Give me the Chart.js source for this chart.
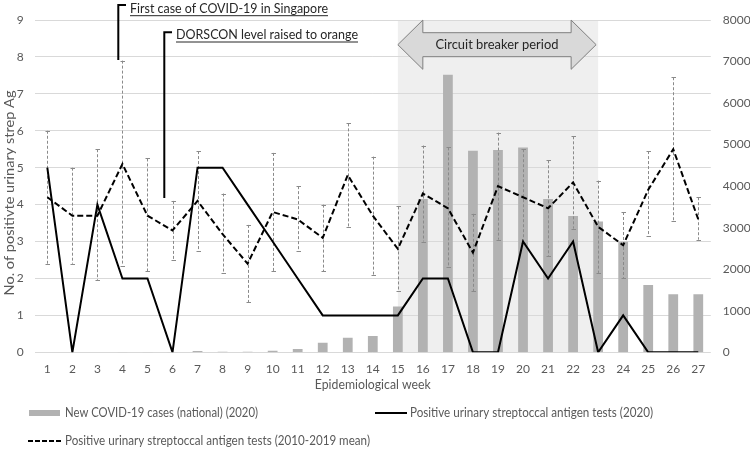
<!DOCTYPE html>
<html><head><meta charset="utf-8">
<script src="https://cdn.jsdelivr.net/npm/chart.js@4.4.1/dist/chart.umd.min.js"></script>
<style>html,body{margin:0;padding:0;background:#fff;}canvas{display:block;}</style>
</head><body>
<canvas id="c" width="750" height="455"></canvas>
<script>
// ---- data ----
const weeks = ['1','2','3','4','5','6','7','8','9','10','11','12','13','14','15','16','17','18','19','20','21','22','23','24','25','26','27'];
const covidCases = [0,0,0,5,10,10,30,15,15,40,80,230,350,390,1100,3690,6680,4850,4870,4930,3690,3280,3150,2660,1620,1400,1400];
const positive2020 = [5,0,4,2,2,0,5,5,4,3,2,1,1,1,1,2,2,0,0,3,2,3,0,1,0,0,0];
const positiveMean = [4.2,3.7,3.7,5.1,3.7,3.3,4.1,3.2,2.4,3.8,3.6,3.1,4.8,3.7,2.8,4.3,3.9,2.7,4.5,4.2,3.9,4.6,3.4,2.9,4.4,5.5,3.6];
const meanUpper = [6.0,5.0,5.5,7.9,5.25,4.1,5.45,4.3,3.45,5.4,4.5,4.0,6.2,5.3,3.95,5.6,5.55,3.75,5.95,5.5,5.2,5.85,4.65,3.8,5.45,7.45,4.2];
const meanLower = [2.4,2.4,1.95,2.35,2.2,2.5,2.75,2.15,1.35,2.2,2.75,2.2,3.4,2.1,1.65,3.0,2.3,1.65,3.05,2.95,2.6,3.35,2.15,2.0,3.15,3.55,3.05];
const leftTicks = [0,1,2,3,4,5,6,7,8,9];
const rightTicks = [0,1000,2000,3000,4000,5000,6000,7000,8000];
const circuitBreaker = ['15','23'];
const labels = {
  yTitle: 'No. of positivte urinary strep Ag',
  xTitle: 'Epidemiological week',
  bars: 'New COVID-19 cases (national) (2020)',
  solid: 'Positive urinary streptoccal antigen tests (2020)',
  dashed: 'Positive urinary streptoccal antigen tests (2010-2019 mean)',
  first: 'First case of COVID-19 in Singapore',
  dorscon: 'DORSCON level raised to orange',
  cb: 'Circuit breaker period'
};

const FONT = 'Lato, "Open Sans", sans-serif';
const TXT = '#595959';

function fitText(ctx, text, x, y, size, target, align, color, underline) {
  ctx.save();
  ctx.font = size + 'px ' + FONT;
  const w = ctx.measureText(text).width;
  const sx = target ? target / w : 1;
  const tw = w * sx;
  let x0 = x;
  if (align === 'center') x0 = x - tw / 2; else if (align === 'right') x0 = x - tw;
  ctx.fillStyle = color;
  ctx.textBaseline = 'middle';
  ctx.textAlign = 'left';
  ctx.translate(x0, y);
  ctx.scale(sx, 1);
  ctx.fillText(text, 0, 0);
  ctx.restore();
  if (underline) {
    ctx.save();
    ctx.strokeStyle = color; ctx.lineWidth = 1;
    ctx.beginPath(); ctx.moveTo(x0, y + size * 0.5 + 0.5); ctx.lineTo(x0 + tw, y + size * 0.5 + 0.5); ctx.stroke();
    ctx.restore();
  }
}

const deco = {
  id: 'deco',
  beforeDraw(chart) {
    const {ctx, chartArea: a, scales} = chart;
    ctx.save();
    ctx.fillStyle = '#fff'; ctx.fillRect(0, 0, chart.width, chart.height);
    const x0 = scales.x.getPixelForValue(weeks.indexOf(circuitBreaker[0]));
    const x1 = scales.x.getPixelForValue(weeks.indexOf(circuitBreaker[1]));
    ctx.fillStyle = '#efefef';
    ctx.fillRect(x0, a.top, x1 - x0, a.bottom - a.top);
    ctx.restore();
  },
  beforeDatasetsDraw(chart) {
    const {ctx, chartArea: a, scales} = chart;
    const xl = scales.x.getPixelForValue(weeks.indexOf(circuitBreaker[0]));
    const xr = scales.x.getPixelForValue(weeks.indexOf(circuitBreaker[1])) - 2;
    const cy = a.top + 24.7, hh = 24.6, sh = 12, hw = 25;
    ctx.save();
    ctx.beginPath();
    ctx.moveTo(xl, cy);
    ctx.lineTo(xl + hw, cy - hh);
    ctx.lineTo(xl + hw, cy - sh);
    ctx.lineTo(xr - hw, cy - sh);
    ctx.lineTo(xr - hw, cy - hh);
    ctx.lineTo(xr, cy);
    ctx.lineTo(xr - hw, cy + hh);
    ctx.lineTo(xr - hw, cy + sh);
    ctx.lineTo(xl + hw, cy + sh);
    ctx.lineTo(xl + hw, cy + hh);
    ctx.closePath();
    ctx.fillStyle = '#d9d9d9';
    ctx.fill();
    ctx.strokeStyle = '#7f7f7f'; ctx.lineWidth = 1;
    ctx.stroke();
    ctx.restore();
    fitText(ctx, labels.cb, (xl + xr) / 2, cy, 14, 123, 'center', '#262626');
  },
  afterDatasetDraw(chart, args) {
    if (args.index !== 0) return;
    const {ctx, scales} = chart;
    ctx.save();
    ctx.strokeStyle = '#8a8a8a';
    ctx.lineWidth = 1;
    for (let i = 0; i < weeks.length; i++) {
      const x = Math.round(scales.x.getPixelForValue(i)) + 0.5;
      const yu = scales.y.getPixelForValue(meanUpper[i]);
      const yl = scales.y.getPixelForValue(meanLower[i]);
      ctx.setLineDash([3, 2]);
      ctx.beginPath(); ctx.moveTo(x, yu); ctx.lineTo(x, yl); ctx.stroke();
      ctx.setLineDash([]);
      ctx.beginPath();
      ctx.moveTo(x - 2, Math.round(yu) + 0.5); ctx.lineTo(x + 2.5, Math.round(yu) + 0.5);
      ctx.moveTo(x - 2, Math.round(yl) + 0.5); ctx.lineTo(x + 2.5, Math.round(yl) + 0.5);
      ctx.stroke();
    }
    ctx.restore();
  },
  afterDraw(chart) {
    const {ctx, chartArea: a} = chart;
    // annotation brackets
    ctx.save();
    ctx.strokeStyle = '#000'; ctx.lineWidth = 2; ctx.lineCap = 'butt';
    ctx.beginPath();
    ctx.moveTo(118.3, 60); ctx.lineTo(118.3, 5); ctx.lineTo(126, 5);
    ctx.stroke();
    ctx.beginPath();
    ctx.moveTo(164.3, 198); ctx.lineTo(164.3, 32.3); ctx.lineTo(172, 32.3);
    ctx.stroke();
    ctx.restore();
    fitText(ctx, labels.first, 130, 8.2, 14, 198, 'left', '#262626', true);
    fitText(ctx, labels.dorscon, 176, 34.5, 14, 182, 'left', '#262626', true);
    // axis titles
    ctx.save();
    ctx.translate(9.5, 193);
    ctx.rotate(-Math.PI / 2);
    fitText(ctx, labels.yTitle, 0, 0, 14, 205, 'center', TXT);
    ctx.restore();
    fitText(ctx, labels.xTitle, (a.left + a.right) / 2, 385, 13, 116, 'center', TXT);
    // legend
    const r1 = 413, r2 = 441;
    ctx.save();
    ctx.fillStyle = '#b2b2b2';
    ctx.fillRect(29, r1 - 3, 31, 6);
    ctx.strokeStyle = '#000'; ctx.lineWidth = 2;
    ctx.beginPath(); ctx.moveTo(375, r1); ctx.lineTo(407, r1); ctx.stroke();
    ctx.setLineDash([5, 2]);
    ctx.beginPath(); ctx.moveTo(28, r2); ctx.lineTo(62, r2); ctx.stroke();
    ctx.restore();
    fitText(ctx, labels.bars, 65, r1, 13, 193, 'left', TXT);
    fitText(ctx, labels.solid, 410, r1, 13, 243, 'left', TXT);
    fitText(ctx, labels.dashed, 65, r2, 13, 305, 'left', TXT);
  }
};

new Chart(document.getElementById('c'), {
  type: 'bar',
  data: {
    labels: weeks,
    datasets: [
      { type: 'bar', label: labels.bars, data: covidCases, yAxisID: 'y1', backgroundColor: '#b2b2b2',
        barPercentage: 0.39, categoryPercentage: 1, order: 3 },
      { type: 'line', label: labels.dashed, data: positiveMean, yAxisID: 'y', borderColor: '#000', borderWidth: 2,
        borderDash: [6, 3], pointRadius: 0, tension: 0, fill: false, order: 2 },
      { type: 'line', label: labels.solid, data: positive2020, yAxisID: 'y', borderColor: '#000', borderWidth: 2,
        pointRadius: 0, tension: 0, fill: false, order: 1 }
    ]
  },
  options: {
    responsive: false, animation: false, devicePixelRatio: 1,
    layout: { padding: { top: 20, left: 0, right: 0, bottom: 0 } },
    plugins: { legend: { display: false }, tooltip: { enabled: false } },
    scales: {
      x: { offset: true, grid: { display: false }, border: { display: false },
        ticks: { color: TXT, font: { family: FONT, size: 12 }, padding: 2, maxRotation: 0, autoSkip: false },
        afterFit: s => { s.height = 102.7; } },
      y: { position: 'left', min: 0, max: 9,
        afterBuildTicks: s => { s.ticks = leftTicks.map(v => ({ value: v })); },
        ticks: { color: TXT, font: { family: FONT, size: 12 }, padding: 11, callback: v => String(v) },
        grid: { color: '#d9d9d9', drawTicks: false, lineWidth: 1 }, border: { display: false },
        afterFit: s => { s.width = 34.8; } },
      y1: { position: 'right', min: 0, max: 8000,
        afterBuildTicks: s => { s.ticks = rightTicks.map(v => ({ value: v })); },
        ticks: { color: TXT, font: { family: FONT, size: 12 }, padding: 12, callback: v => String(v) },
        grid: { display: false, drawTicks: false }, border: { display: false },
        afterFit: s => { s.width = 39.2; } }
    }
  },
  plugins: [deco]
});
</script>
</body></html>
